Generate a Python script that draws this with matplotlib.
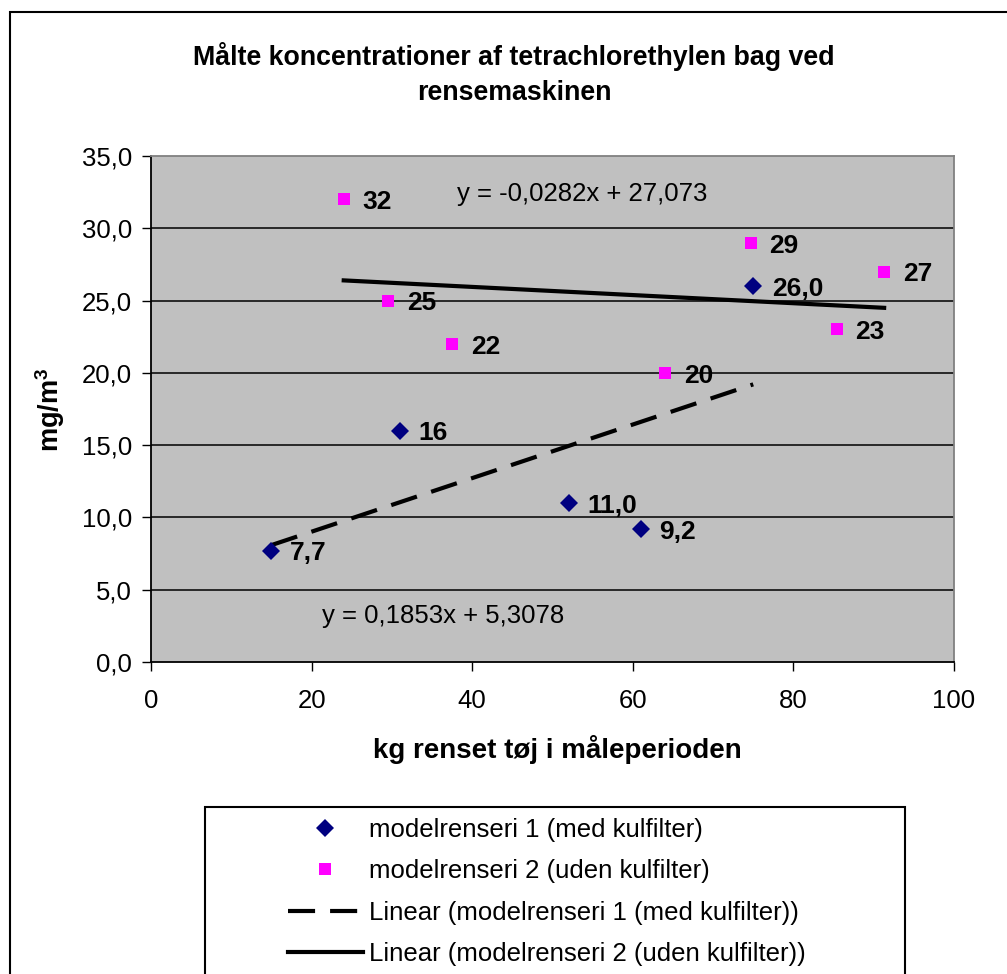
import matplotlib
matplotlib.use("Agg")
import matplotlib.pyplot as plt
from matplotlib.lines import Line2D
from matplotlib.patches import Rectangle
import numpy as np

plt.rcParams["font.family"] = ["Liberation Sans", "DejaVu Sans"]
plt.rcParams["mathtext.fontset"] = "custom"
plt.rcParams["mathtext.rm"] = "Liberation Sans"
plt.rcParams["mathtext.bf"] = "Liberation Sans:bold"

# data
x_med = [15, 31, 52, 61, 75]
y_med = [7.7, 16.0, 11.0, 9.2, 26.0]
lbl_med = ["7,7", "16", "11,0", "9,2", "26,0"]

x_uden = [24, 29.5, 37.5, 64, 74.7, 85.4, 91.3]
y_uden = [32, 25, 22, 20, 29, 23, 27]
lbl_uden = ["32", "25", "22", "20", "29", "23", "27"]

# trendline coefficients as printed on the chart
slope_med, icpt_med = 0.1853, 5.3078
slope_uden, icpt_uden = -0.0282, 27.073
eq_med = "y = 0,1853x + 5,3078"
eq_uden = "y = -0,0282x + 27,073"

yticks = [0, 5, 10, 15, 20, 25, 30, 35]
ytick_labels = ["0,0", "5,0", "10,0", "15,0", "20,0", "25,0", "30,0", "35,0"]
xticks = [0, 20, 40, 60, 80, 100]

series_names = [
    "modelrenseri 1 (med kulfilter)",
    "modelrenseri 2 (uden kulfilter)",
    "Linear (modelrenseri 1 (med kulfilter))",
    "Linear (modelrenseri 2 (uden kulfilter))",
]

W, H = 1007, 974
FS = 18.5
NAVY = "#000080"
MAGENTA = "#FF00FF"
DASH = (0, (6.5, 3.6))

fig = plt.figure(figsize=(W / 100, H / 100), dpi=100)

# outer chart border (runs off the right/bottom edge in the reference)
fig.patches.append(Rectangle((10 / W, -0.1), 1.2, 1.1 - 12 / H,
                             transform=fig.transFigure, fill=False,
                             edgecolor="black", linewidth=1.5, clip_on=False))

L, R, T, B = 151, 954, 156, 662
ax = fig.add_axes([L / W, 1 - B / H, (R - L) / W, (B - T) / H])
ax.set_facecolor("#C0C0C0")
ax.set_xlim(0, 100)
ax.set_ylim(0, 35)

ax.set_yticks(yticks)
ax.set_yticklabels(ytick_labels)
ax.set_xticks(xticks)
ax.tick_params(axis="both", direction="out", length=6.5, width=1,
               labelsize=FS, colors="black")
ax.tick_params(axis="y", pad=7)
ax.tick_params(axis="x", pad=13)

for y in yticks[1:-1]:
    ax.axhline(y, color="black", linewidth=1.1, zorder=1)

for side in ("left", "bottom"):
    ax.spines[side].set_color("black")
    ax.spines[side].set_linewidth(1.3)
for side in ("top", "right"):
    ax.spines[side].set_color("#808080")
    ax.spines[side].set_linewidth(1.3)

# trendlines over the range of each series
xm = np.array([min(x_med), max(x_med)])
ax.plot(xm, slope_med * xm + icpt_med, color="black", linewidth=3,
        linestyle=DASH, zorder=3)
xu = np.array([min(x_uden), max(x_uden)])
ax.plot(xu, slope_uden * xu + icpt_uden, color="black", linewidth=3, zorder=3)

ax.plot(x_med, y_med, linestyle="none", marker="D", markersize=9.3,
        color=NAVY, markeredgewidth=0, zorder=4)
ax.plot(x_uden, y_uden, linestyle="none", marker="s", markersize=8.8,
        color=MAGENTA, markeredgewidth=0, zorder=4)

for xs, ys, labels in ((x_med, y_med, lbl_med), (x_uden, y_uden, lbl_uden)):
    for x, y, t in zip(xs, ys, labels):
        ax.annotate(t, (x, y), xytext=(13.5, -2), textcoords="offset points",
                    ha="left", va="center", fontsize=19, fontweight="bold",
                    zorder=5)

ax.text(53.7, 32.4, eq_uden, ha="center", va="center", fontsize=FS)
ax.text(36.4, 3.2, eq_med, ha="center", va="center", fontsize=FS)

fig.text(514 / W, 1 - 74 / H,
         "Målte koncentrationer af tetrachlorethylen bag ved\nrensemaskinen",
         ha="center", va="center", fontsize=19.3, fontweight="bold",
         linespacing=1.45)

ax.set_xlabel("kg renset tøj i måleperioden", fontsize=20, fontweight="bold")
ax.xaxis.set_label_coords((557 - L) / (R - L), (B - 735) / (B - T))
ax.set_ylabel(r"mg/m$^{\mathbf{3}}$", fontsize=19.5, fontweight="bold")
ax.yaxis.set_label_coords((67 - L) / (R - L), (B - 410) / (B - T))

# legend box runs off the bottom of the picture
fig.patches.append(Rectangle((205 / W, -0.1), 700 / W, 0.1 + 1 - 807 / H,
                             transform=fig.transFigure, fill=False,
                             edgecolor="black", linewidth=1.5, clip_on=False))
handles = [
    Line2D([], [], linestyle="none", marker="D", markersize=9.3, color=NAVY,
           markeredgewidth=0),
    Line2D([], [], linestyle="none", marker="s", markersize=8.8,
           color=MAGENTA, markeredgewidth=0),
    Line2D([], [], color="black", linewidth=3, linestyle=DASH),
    Line2D([], [], color="black", linewidth=3),
]
fig.legend(handles, series_names, loc="upper left",
           bbox_to_anchor=(288 / W, 1 - 818 / H), frameon=False,
           fontsize=FS, handlelength=2.9, handletextpad=0.25,
           labelspacing=0.68, borderpad=0, borderaxespad=0)

fig.savefig("out.png", dpi=100)
